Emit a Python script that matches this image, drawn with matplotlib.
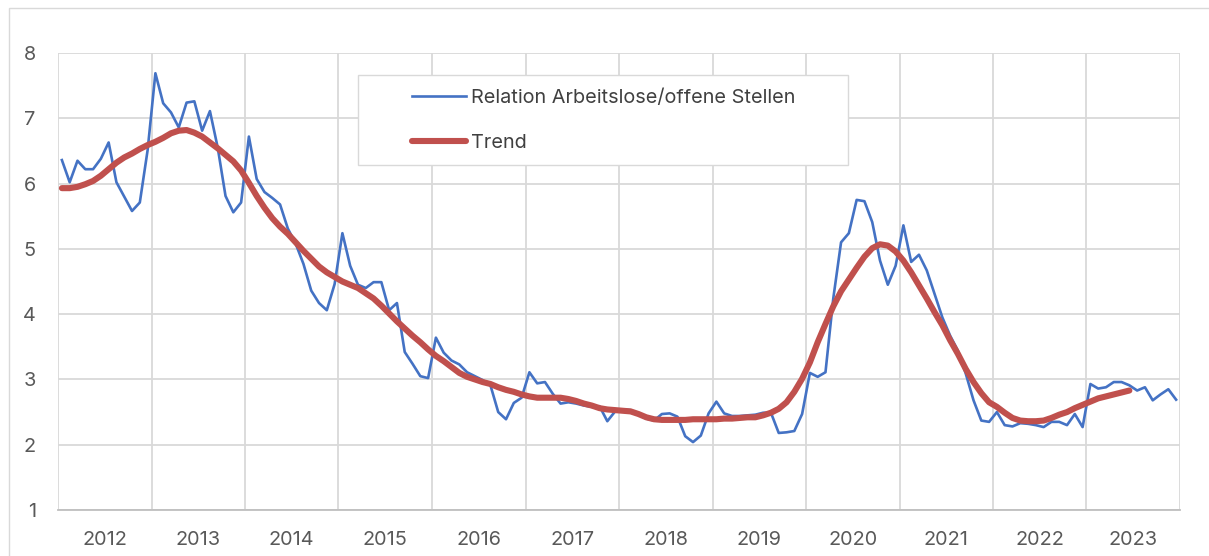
import matplotlib
matplotlib.use("Agg")
import matplotlib.pyplot as plt
from matplotlib.patches import Rectangle

# monthly values, Jan 2012 .. Dec 2023
years = [str(y) for y in range(2012, 2024)]

ratio = [
    6.36, 6.02, 6.35, 6.22, 6.22, 6.38, 6.63, 6.02, 5.80, 5.58, 5.71, 6.51,
    7.69, 7.23, 7.09, 6.86, 7.24, 7.26, 6.81, 7.11, 6.55, 5.81, 5.56, 5.71,
    6.72, 6.07, 5.87, 5.78, 5.68, 5.31, 5.08, 4.77, 4.36, 4.17, 4.06, 4.46,
    5.24, 4.74, 4.45, 4.40, 4.49, 4.49, 4.06, 4.17, 3.42, 3.24, 3.05, 3.02,
    3.64, 3.41, 3.29, 3.23, 3.11, 3.05, 2.99, 2.91, 2.50, 2.39, 2.64, 2.72,
    3.11, 2.94, 2.96, 2.78, 2.63, 2.65, 2.63, 2.60, 2.58, 2.59, 2.36, 2.51,
    2.54, 2.53, 2.47, 2.40, 2.37, 2.47, 2.48, 2.43, 2.13, 2.04, 2.14, 2.48,
    2.66, 2.48, 2.44, 2.44, 2.45, 2.46, 2.49, 2.49, 2.18, 2.19, 2.21, 2.47,
    3.10, 3.04, 3.11, 4.24, 5.10, 5.24, 5.75, 5.73, 5.41, 4.82, 4.45, 4.74,
    5.36, 4.80, 4.91, 4.67, 4.31, 3.95, 3.67, 3.44, 3.09, 2.68, 2.37, 2.35,
    2.50, 2.30, 2.28, 2.33, 2.32, 2.30, 2.27, 2.35, 2.35, 2.30, 2.47, 2.27,
    2.93, 2.86, 2.88, 2.96, 2.96, 2.91, 2.83, 2.88, 2.68, 2.77, 2.85, 2.69,
]

# trend runs Jan 2012 .. Jun 2023
trend = [
    5.93, 5.93, 5.95, 5.99, 6.04, 6.12, 6.22, 6.32, 6.40, 6.46, 6.53, 6.59,
    6.64, 6.70, 6.77, 6.81, 6.82, 6.78, 6.72, 6.63, 6.54, 6.44, 6.34, 6.20,
    6.01, 5.81, 5.63, 5.47, 5.34, 5.23, 5.10, 4.97, 4.85, 4.73, 4.64, 4.57,
    4.50, 4.45, 4.40, 4.32, 4.24, 4.13, 4.01, 3.89, 3.78, 3.67, 3.57, 3.46,
    3.36, 3.28, 3.19, 3.10, 3.04, 3.00, 2.96, 2.93, 2.88, 2.84, 2.81, 2.77,
    2.74, 2.72, 2.72, 2.72, 2.72, 2.70, 2.67, 2.63, 2.60, 2.56, 2.54, 2.53,
    2.52, 2.51, 2.47, 2.42, 2.39, 2.38, 2.38, 2.38, 2.38, 2.39, 2.39, 2.39,
    2.39, 2.40, 2.40, 2.41, 2.42, 2.42, 2.45, 2.49, 2.55, 2.65, 2.81, 3.01,
    3.26, 3.57, 3.85, 4.12, 4.35, 4.53, 4.71, 4.88, 5.01, 5.07, 5.05, 4.96,
    4.82, 4.64, 4.44, 4.24, 4.03, 3.83, 3.60, 3.39, 3.16, 2.96, 2.79, 2.65,
    2.58, 2.49, 2.41, 2.37, 2.36, 2.36, 2.37, 2.41, 2.46, 2.50, 2.56, 2.61,
    2.66, 2.71, 2.74, 2.77, 2.80, 2.83,
]

label_ratio = "Relation Arbeitslose/offene Stellen"
label_trend = "Trend"

plt.rcParams['font.family'] = ['Inter', 'DejaVu Sans']

grid_col = '#d9d9d9'
text_col = '#595959'
fs = 14.3

fig = plt.figure(figsize=(12.09, 5.56), dpi=100)
ax = fig.add_axes([58 / 1209, 1 - 510 / 556, 1122 / 1209, 457 / 556])

# chart area border (top and left edges visible)
fig.patches.append(Rectangle((9 / 1209, -0.1), 1.2, 1.1 - 8 / 556,
                             transform=fig.transFigure, fill=False,
                             edgecolor=grid_col, linewidth=1.0))

n = len(ratio)
ax.plot(range(n), ratio, color='#4472C4', linewidth=1.9, zorder=3,
        label=label_ratio)
ax.plot(range(len(trend)), trend, color='#C0504D', linewidth=4.4,
        solid_capstyle='round', solid_joinstyle='round', zorder=4,
        label=label_trend)

ax.set_xlim(-0.5, n - 0.5)
ax.set_ylim(1, 8)

ax.set_yticks(range(1, 9))
ax.set_xticks([-0.5 + 12 * k for k in range(len(years) + 1)])
ax.set_xticklabels([])
ax.set_xticks([5.5 + 12 * k for k in range(len(years))], minor=True)
ax.set_xticklabels(years, minor=True)

ax.grid(True, which='major', color=grid_col, linewidth=1.3)
ax.set_axisbelow(True)
for s in ['top', 'right', 'left']:
    ax.spines[s].set_visible(False)
ax.spines['bottom'].set_color('#bfbfbf')
ax.spines['bottom'].set_linewidth(1.3)

ax.tick_params(axis='both', which='both', length=0, colors=text_col,
               labelsize=fs)
ax.tick_params(axis='y', pad=16)
ax.tick_params(axis='x', which='minor', pad=15)

# legend box
ax.add_patch(Rectangle(((358 - 58) / 1122, 1 - (165 - 53) / 457),
                       490 / 1122, 90 / 457, transform=ax.transAxes,
                       facecolor='white', edgecolor=grid_col,
                       linewidth=1.0, zorder=5))
leg = ax.legend(loc='center left',
                bbox_to_anchor=((412 - 58) / 1122, 1 - (120.5 - 53) / 457),
                frameon=False, fontsize=fs, handlelength=2.72,
                handletextpad=0.25, labelspacing=1.36, borderpad=0,
                borderaxespad=0)
leg.set_zorder(6)
for t in leg.get_texts():
    t.set_color('#404040')

fig.savefig('out.png', dpi=100)
